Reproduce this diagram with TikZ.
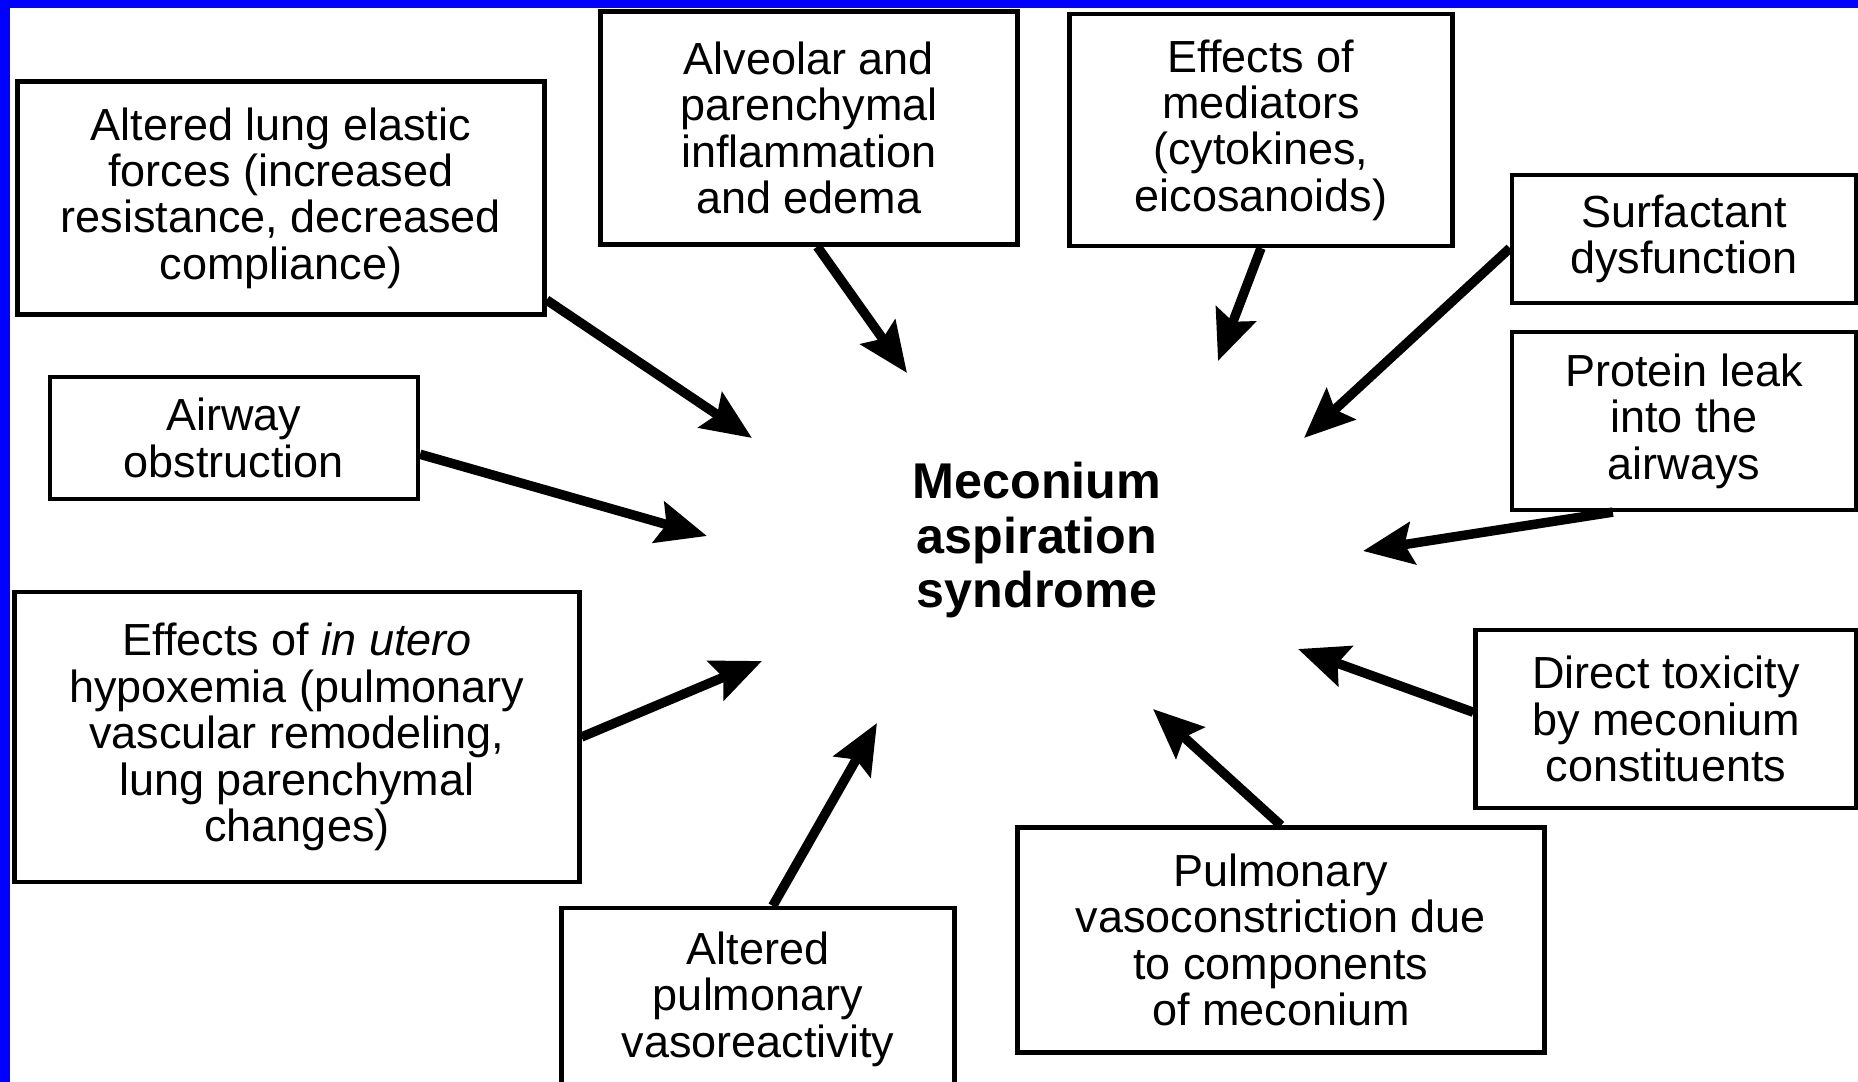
\documentclass[tikz,border=0pt]{standalone}
\usepackage{fontspec}
\setmainfont{Liberation Sans}
\usetikzlibrary{arrows.meta}
\tikzset{>={Stealth[length=5mm,width=4.2mm,inset=0.8mm]}}

\begin{document}
\begin{tikzpicture}[
    ->,
    line width = 2.7pt,
    align = center,
    font = \fontsize{12.8}{13.2}\selectfont,
    factor/.style = {draw, line width = 1.2pt, inner sep = 0pt},
    outcome/.style = {font = \fontsize{14.3}{15.4}\selectfont\bfseries}
  ]
    \useasboundingbox (0, 0) rectangle (18.58, -10.82);
    \fill[blue, -] (0, 0) rectangle (18.58, -0.08);
    \fill[blue, -] (0, 0) rectangle (0.10, -10.82);

    \node[outcome] (mas) at (10.37, -5.40) {Meconium\\aspiration\\syndrome};

    \node[factor, minimum width = 5.27cm, minimum height = 2.33cm] (lung_elastic) at (2.81, -1.98) {Altered lung elastic\\forces (increased\\resistance, decreased\\compliance)};
    \node[factor, minimum width = 4.17cm, minimum height = 2.33cm] (alveolar_inflammation) at (8.09, -1.28) {Alveolar and\\parenchymal\\inflammation\\and edema};
    \node[factor, minimum width = 3.83cm, minimum height = 2.32cm] (mediators) at (12.61, -1.30) {Effects of\\mediators\\(cytokines,\\eicosanoids)};
    \node[factor, minimum width = 3.44cm, minimum height = 1.28cm] (surfactant) at (16.84, -2.39) {Surfactant\\dysfunction};
    \node[factor, minimum width = 3.44cm, minimum height = 1.78cm] (protein_leak) at (16.84, -4.21) {Protein leak\\into the\\airways};
    \node[factor, minimum width = 3.68cm, minimum height = 1.22cm] (airway_obstruction) at (2.34, -4.38) {Airway\\obstruction};
    \node[factor, minimum width = 5.65cm, minimum height = 2.90cm] (in_utero_hypoxemia) at (2.97, -7.37) {Effects of \textit{in utero}\\hypoxemia (pulmonary\\vascular remodeling,\\lung parenchymal\\changes)};
    \node[factor, minimum width = 3.93cm, minimum height = 1.82cm] (vasoreactivity) at (7.58, -9.99) {Altered\\pulmonary\\vasoreactivity};
    \node[factor, minimum width = 5.27cm, minimum height = 2.25cm] (vasoconstriction) at (12.81, -9.40) {Pulmonary\\vasoconstriction due\\to components\\of meconium};
    \node[factor, minimum width = 3.81cm, minimum height = 1.78cm] (direct_toxicity) at (16.66, -7.19) {Direct toxicity\\by meconium\\constituents};

    \coordinate (tip_lung) at (7.52, -4.38);
    \coordinate (tip_alveolar) at (9.07, -3.73);
    \coordinate (tip_mediators) at (12.18, -3.61);
    \coordinate (tip_surfactant) at (13.04, -4.38);
    \coordinate (tip_protein) at (13.63, -5.51);
    \coordinate (tip_airway) at (7.07, -5.36);
    \coordinate (tip_hypoxemia) at (7.62, -6.61);
    \coordinate (tip_vasoreactivity) at (8.77, -7.23);
    \coordinate (tip_vasoconstriction) at (11.53, -7.09);
    \coordinate (tip_toxicity) at (12.98, -6.49);

    \draw (lung_elastic.-21.5) -- (tip_lung);
    \draw (alveolar_inflammation.-86) -- (tip_alveolar);
    \draw (mediators.south) -- (tip_mediators);
    \draw (surfactant.183) -- (tip_surfactant);
    \draw (protein_leak.232) -- (tip_protein);
    \draw (airway_obstruction.-5) -- (tip_airway);
    \draw (in_utero_hypoxemia.east) -- (tip_hypoxemia);
    \draw (vasoreactivity.81) -- (tip_vasoreactivity);
    \draw (vasoconstriction.north) -- (tip_vasoconstriction);
    \draw (direct_toxicity.178) -- (tip_toxicity);
  \end{tikzpicture}
\end{document}
